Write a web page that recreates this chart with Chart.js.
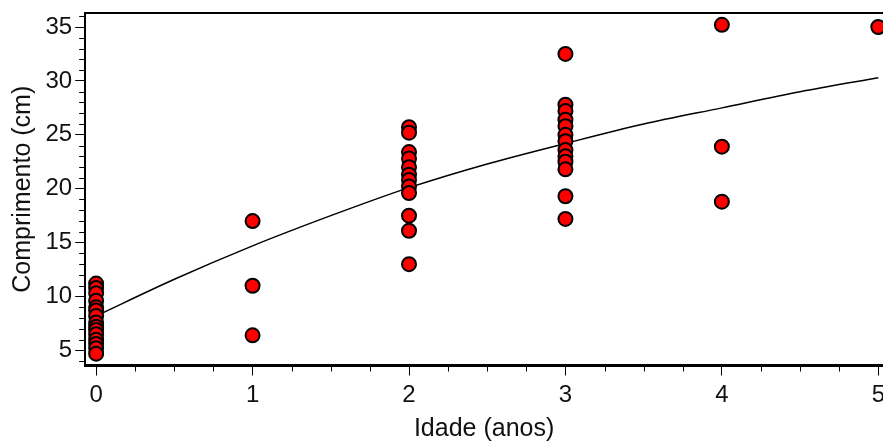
<!DOCTYPE html>
<html>
<head>
<meta charset="utf-8">
<script src="https://cdn.jsdelivr.net/npm/chart.js@4"></script>
<style>
  html, body { margin: 0; padding: 0; background: #fff; overflow: hidden; }
  #wrap { width: 883px; height: 443px; }
</style>
</head>
<body>
<div id="wrap"><canvas id="chart"></canvas></div>
<script>
const age0 = [11.2, 10.8, 10.3, 9.6, 9.0, 8.7, 8.2, 7.6, 7.2, 6.9, 6.5, 6.0, 5.6, 5.2, 4.7];
const age1 = [17.0, 11.0, 6.4];
const age2 = [25.7, 25.2, 23.4, 22.8, 22.0, 21.3, 20.8, 20.2, 19.6, 17.5, 16.1, 13.0];
const age3 = [32.5, 27.8, 27.2, 26.4, 25.8, 25.0, 24.4, 23.6, 23.0, 22.5, 21.8, 19.3, 17.2];
const age4 = [35.2, 23.9, 18.8];
const age5 = [35.0];

// fitted growth curve
const curveAges = [0, 0.5, 1, 1.5, 2, 2.5, 3, 3.5, 4, 4.5, 5];
const curveLengths = [8.2, 11.6, 14.7, 17.5, 20.1, 22.3, 24.2, 26.0, 27.5, 29.0, 30.3];

const xTicks = [0, 1, 2, 3, 4, 5];
const yTicks = [5, 10, 15, 20, 25, 30, 35];

const groups = [age0, age1, age2, age3, age4, age5];
const observed = [];
groups.forEach((vals, age) => {
    vals.forEach(v => observed.push({ x: age, y: v }));
});
const curve = curveAges.map((a, i) => ({ x: a, y: curveLengths[i] }));

const FONT = '"Liberation Sans", Arial, sans-serif';

// minor ticks + top frame line
const frameAndMinorTicks = {
    id: 'frameAndMinorTicks',
    afterDraw(chart) {
        const ctx = chart.ctx;
        const area = chart.chartArea;
        const xs = chart.scales.x;
        const ys = chart.scales.y;
        ctx.save();
        ctx.strokeStyle = '#000';
        ctx.lineWidth = 1;
        ctx.beginPath();
        for (let v = 4; v <= 36; v++) {
            if (v % 5 === 0) continue;
            const py = Math.round(ys.getPixelForValue(v)) + 0.5;
            ctx.moveTo(area.left - 6, py);
            ctx.lineTo(area.left, py);
        }
        for (let v = 0; v <= 5; v += 0.25) {
            if (Number.isInteger(v)) continue;
            const px = Math.round(xs.getPixelForValue(v)) + 0.5;
            ctx.moveTo(px, area.bottom);
            ctx.lineTo(px, area.bottom + 6);
        }
        ctx.stroke();
        ctx.lineWidth = 2;
        ctx.beginPath();
        ctx.moveTo(area.left, area.top);
        ctx.lineTo(area.right, area.top);
        ctx.stroke();
        ctx.restore();
    }
};

// the original lets the last x label run off the edge, so no side padding
function noLabelPadding(axis) {
    axis._calculatePadding = function() {
        this.paddingLeft = 0;
        this.paddingRight = 0;
        this.paddingTop = 0;
        this.paddingBottom = 0;
    };
}

new Chart(document.getElementById('chart'), {
    type: 'scatter',
    data: {
        datasets: [{
            label: 'Observado',
            data: observed,
            pointStyle: 'circle',
            pointRadius: 7,
            pointHoverRadius: 7,
            backgroundColor: '#ff0000',
            borderColor: '#000',
            borderWidth: 2,
            order: 1
        }, {
            label: 'Ajuste',
            type: 'line',
            data: curve,
            borderColor: '#000',
            borderWidth: 1.5,
            pointRadius: 0,
            fill: false,
            tension: 0.3,
            order: 2
        }]
    },
    options: {
        responsive: true,
        maintainAspectRatio: false,
        animation: false,
        layout: { autoPadding: false, padding: { top: 13, right: 0, bottom: 0, left: 9 } },
        plugins: {
            legend: { display: false },
            tooltip: { enabled: false }
        },
        scales: {
            x: {
                type: 'linear',
                min: -0.07,
                max: 5.03,
                afterBuildTicks: axis => { axis.ticks = xTicks.map(v => ({ value: v })); },
                beforeFit: noLabelPadding,
                grid: { drawOnChartArea: false, tickLength: 10, tickColor: '#000', tickWidth: 1 },
                border: { color: '#000', width: 3 },
                ticks: { color: '#111', font: { family: FONT, size: 24, lineHeight: 1.0 }, padding: 8 },
                title: {
                    display: true,
                    text: 'Idade (anos)',
                    color: '#111',
                    font: { family: FONT, size: 25, lineHeight: 1.1 },
                    padding: { top: 0, bottom: 0 }
                }
            },
            y: {
                type: 'linear',
                min: 3.6,
                max: 36.3,
                afterBuildTicks: axis => { axis.ticks = yTicks.map(v => ({ value: v })); },
                beforeFit: noLabelPadding,
                grid: { drawOnChartArea: false, tickLength: 10, tickColor: '#000', tickWidth: 1 },
                border: { color: '#000', width: 2 },
                ticks: { color: '#111', font: { family: FONT, size: 24 }, padding: 3 },
                title: {
                    display: true,
                    text: 'Comprimento (cm)',
                    color: '#111',
                    font: { family: FONT, size: 25, lineHeight: 1.1 },
                    padding: { top: 0, bottom: 6 }
                }
            }
        }
    },
    plugins: [frameAndMinorTicks]
});
</script>
</body>
</html>
